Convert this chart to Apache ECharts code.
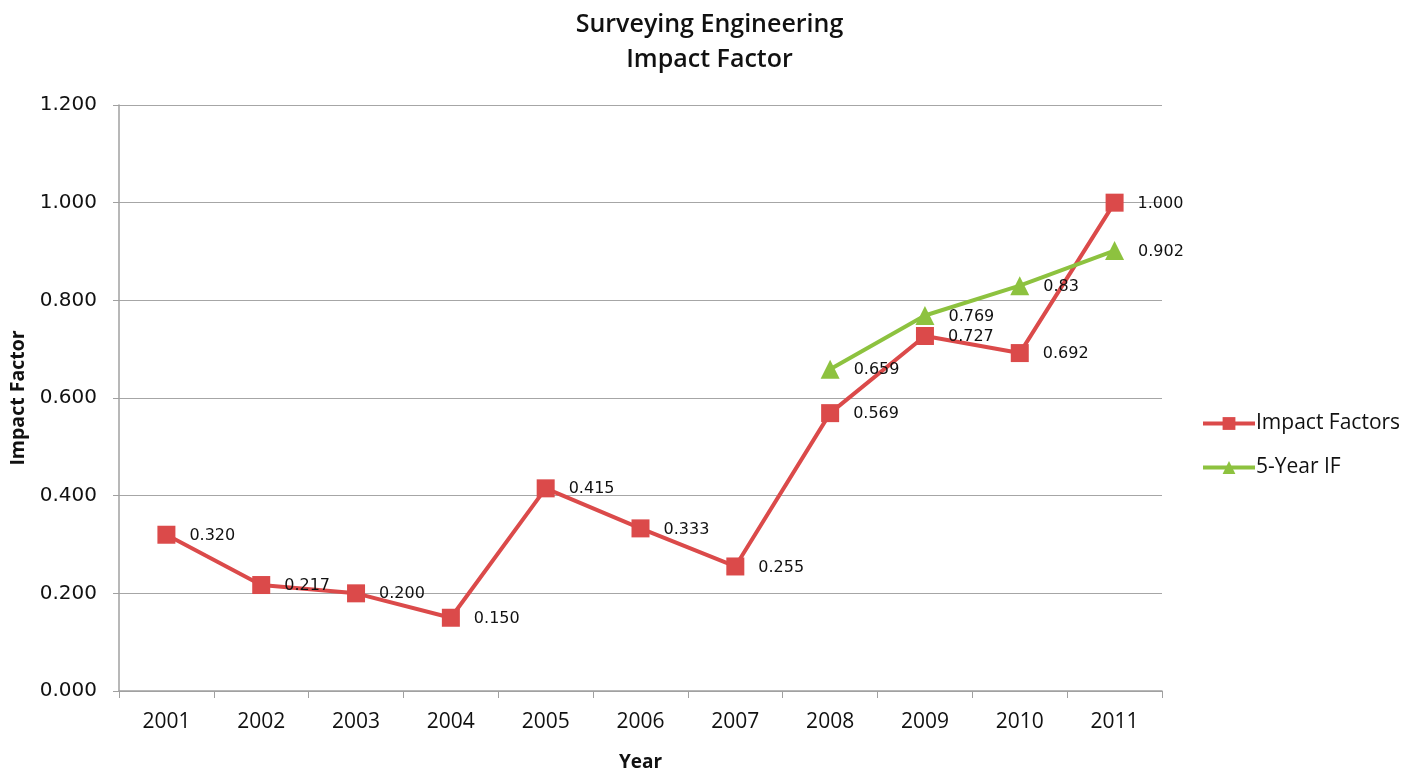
<!DOCTYPE html>
<html><head><meta charset="utf-8">
<script src="https://cdn.jsdelivr.net/npm/echarts@6/dist/echarts.min.js"></script>
<style>html,body{margin:0;padding:0;background:#fff}#c{width:1419px;height:773px}</style>
</head><body><div id="c"></div>
<script>
const years = ['2001','2002','2003','2004','2005','2006','2007','2008','2009','2010','2011'];
const impactFactors = [0.320,0.217,0.200,0.150,0.415,0.333,0.255,0.569,0.727,0.692,1.000];
const fiveYearIF = [null,null,null,null,null,null,null,0.659,0.769,0.83,0.902];
const fiveYearLabels = [null,null,null,null,null,null,null,'0.659','0.769','0.83','0.902'];

const chart = echarts.init(document.getElementById('c'));
const labelFont = {fontFamily:'DejaVu Sans', fontSize:16, color:'#111'};
chart.setOption({
  animation:false,
  title:{text:'Surveying Engineering\nImpact Factor', left:'center', top:2,
    textStyle:{fontFamily:'Open Sans', fontWeight:600, fontSize:25, lineHeight:35, color:'#111'}},
  legend:{orient:'vertical', left:1196, top:408, itemGap:23, itemWidth:52, itemHeight:16,
    textStyle:{fontFamily:'Open Sans', fontSize:21, color:'#111', padding:[0,0,0,-4]},
    lineStyle:{width:4},
    data:['Impact Factors','5-Year IF']},
  grid:{left:119, right:257, top:105, bottom:82, outerBoundsMode:'none', containLabel:false},
  xAxis:{type:'category', data:years, boundaryGap:true,
    name:'Year', nameLocation:'middle', nameGap:62,
    nameTextStyle:{fontFamily:'Open Sans', fontWeight:'bold', fontSize:19, color:'#111'},
    axisLine:{lineStyle:{color:'#a0a0a0', width:1.5}},
    axisTick:{show:true, length:7, alignWithLabel:false, lineStyle:{color:'#a0a0a0'}},
    axisLabel:{fontFamily:'Open Sans', fontSize:21, color:'#111', margin:21}},
  yAxis:{type:'value', min:0, max:1.2, interval:0.2,
    name:'Impact Factor', nameLocation:'middle', nameGap:90, nameRotate:90,
    nameTextStyle:{fontFamily:'Open Sans', fontWeight:'bold', fontSize:19.5, color:'#111'},
    axisLine:{show:true, lineStyle:{color:'#a0a0a0', width:1.5}},
    axisTick:{show:true, length:6, lineStyle:{color:'#a0a0a0'}},
    splitLine:{lineStyle:{color:'#a6a6a6', width:1.2}},
    axisLabel:{fontFamily:'DejaVu Sans', fontSize:20, color:'#111', margin:22,
      formatter:v=>v.toFixed(3)}},
  series:[
    {name:'Impact Factors', type:'line', data:impactFactors, symbol:'rect', symbolSize:18,
      itemStyle:{color:'#DB4A4A'}, lineStyle:{color:'#DB4A4A', width:4},
      label:{show:true, position:'right', distance:14, offset:[0,1], ...labelFont,
        formatter:p=>p.value.toFixed(3)}, z:2},
    {name:'5-Year IF', type:'line', data:fiveYearIF, symbol:'triangle', symbolSize:19,
      itemStyle:{color:'#8DC23F'}, lineStyle:{color:'#8DC23F', width:4},
      label:{show:true, position:'right', distance:14, offset:[0,1], ...labelFont,
        formatter:p=>fiveYearLabels[p.dataIndex]}, z:3}
  ]
});
</script></body></html>
